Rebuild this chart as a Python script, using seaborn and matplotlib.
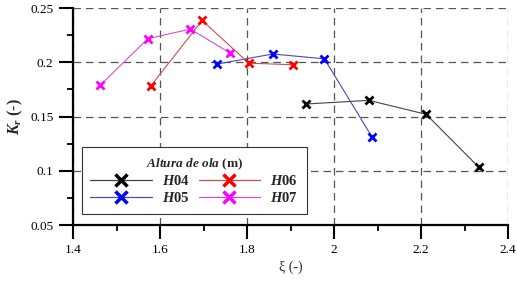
import numpy as np
import pandas as pd
import seaborn as sns
import matplotlib.pyplot as plt
from matplotlib.lines import Line2D
from matplotlib.ticker import MultipleLocator

# values
xi_h04 = [1.935, 2.080, 2.212, 2.333]
kr_h04 = [0.1615, 0.1649, 0.1520, 0.1032]
xi_h05 = [1.731, 1.859, 1.978, 2.087]
kr_h05 = [0.1983, 0.2076, 0.2032, 0.1314]
xi_h06 = [1.579, 1.697, 1.804, 1.905]
kr_h06 = [0.1783, 0.2385, 0.1992, 0.1977]
xi_h07 = [1.462, 1.572, 1.670, 1.761]
kr_h07 = [0.1786, 0.2217, 0.2306, 0.2085]

series = ['H04', 'H05', 'H06', 'H07']
marker_colors = ['black', '#0000ff', '#ff0000', '#ff00ff']
line_colors = ['#444444', '#4a4ab0', '#c85050', '#d050d0']

sns.set_theme(style='white')
plt.rcParams['font.family'] = ['Liberation Serif', 'DejaVu Serif']
plt.rcParams['mathtext.fontset'] = 'custom'
plt.rcParams['mathtext.it'] = 'Liberation Serif:italic:bold'
plt.rcParams['mathtext.rm'] = 'Liberation Serif:bold'

fig = plt.figure(figsize=(5.17, 2.83), dpi=100)
ax = fig.add_axes([0.1412, 0.2049, 0.8414, 0.7668])

frames = [(xi_h04, kr_h04), (xi_h05, kr_h05), (xi_h06, kr_h06), (xi_h07, kr_h07)]
for name, (xs, ys), mc, lc in zip(series, frames, marker_colors, line_colors):
    df = pd.DataFrame({'xi': xs, 'kr': ys})
    sns.lineplot(data=df, x='xi', y='kr', ax=ax, color=lc, linewidth=0.8,
                 marker='x', markersize=6, markeredgewidth=2,
                 markeredgecolor=mc, sort=False)

ax.set_xlim(1.4, 2.4)
ax.set_ylim(0.05, 0.25)
ax.xaxis.set_minor_locator(MultipleLocator(0.1))
ax.yaxis.set_minor_locator(MultipleLocator(0.025))
ax.set_xticks([1.4, 1.6, 1.8, 2.0, 2.2, 2.4])
ax.set_xticklabels(['1.4', '1.6', '1.8', '2', '2.2', '2.4'])
ax.set_yticks([0.05, 0.1, 0.15, 0.2, 0.25])
ax.set_yticklabels(['0.05', '0.1', '0.15', '0.2', '0.25'])

ax.grid(True, which='major', linestyle=(0, (6, 4)), color='#555555', linewidth=0.9)
for s in ['top', 'right']:
    ax.spines[s].set_visible(False)
for s in ['left', 'bottom']:
    ax.spines[s].set_linewidth(1.6)
    ax.spines[s].set_color('black')

ax.tick_params(which='major', direction='out', length=10, width=1.5,
               labelsize=9.5, pad=4, colors='black', bottom=True, left=True)
ax.tick_params(which='minor', direction='out', length=4, width=1.3,
               bottom=True, left=True, colors='black')

ax.set_xlabel('ξ (-)', fontsize=10, labelpad=3)
ax.set_ylabel('$K_r$ (-)', fontsize=11.5, fontweight='bold', labelpad=4)

handles = [Line2D([0], [0], color=lc, linewidth=0.9, marker='x', markersize=8,
                  markeredgewidth=2.5, markeredgecolor=mc)
           for mc, lc in zip(marker_colors, line_colors)]
labels = ['$H$04', '$H$05', '$H$06', '$H$07']
leg = ax.legend(handles, labels, ncol=2, loc='lower left',
                bbox_to_anchor=(0.02, 0.05), borderaxespad=0,
                title='$Altura\\ de\\ ola$ (m)',
                prop={'weight': 'bold', 'size': 10.5},
                title_fontproperties={'weight': 'bold', 'size': 9.5},
                handlelength=4.2, columnspacing=0.6, handletextpad=0.7,
                labelspacing=0.2, fancybox=False, framealpha=1,
                edgecolor='#333333', borderpad=0.6)
leg.get_frame().set_linewidth(0.8)

fig.savefig('out.png', dpi=100)
